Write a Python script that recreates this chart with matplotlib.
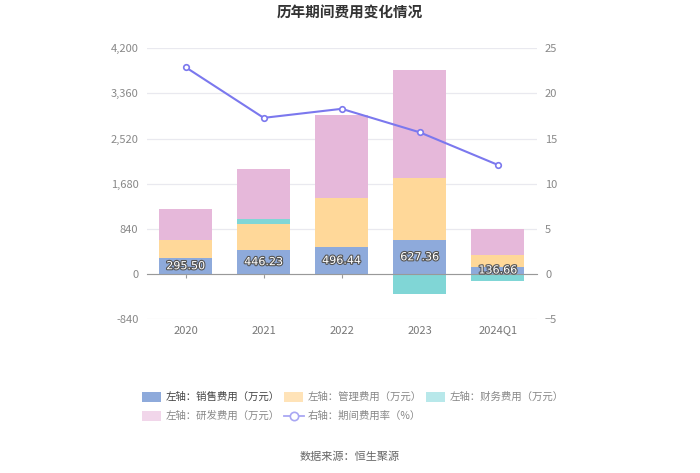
import matplotlib
matplotlib.use("Agg")
import matplotlib.pyplot as plt
import matplotlib.patheffects as pe
from matplotlib.patches import Rectangle
from matplotlib.lines import Line2D
import numpy as np

plt.rcParams['font.family'] = ['Noto Sans CJK SC', 'DejaVu Sans']

categories = ["2020", "2021", "2022", "2023", "2024Q1"]
sales = [295.50, 446.23, 496.44, 627.36, 136.66]
mgmt = [340, 480, 918, 1165, 215]
finance = [5, 106, 5, -370, -120]
rnd = [568, 926, 1532, 2007, 495]
rate = [22.9, 17.3, 18.3, 15.7, 12.1]

left_ticks = [-840, 0, 840, 1680, 2520, 3360, 4200]
right_ticks = [-5, 0, 5, 10, 15, 20, 25]

c_sales = "#8eaadb"
c_mgmt = "#ffd899"
c_fin = "#80d6d6"
c_rnd = "#e6b8da"
c_line = "#7b78ee"

fig = plt.figure(figsize=(7, 4.73), dpi=100)
ax = fig.add_axes([146.7/700, 1-319.3/473, (536.7-146.7)/700, (319.3-48.3)/473])

x = np.arange(len(categories))
w = 0.68

sales_a = np.array(sales, float)
mgmt_a = np.array(mgmt, float)
fin_a = np.array(finance, float)
rnd_a = np.array(rnd, float)

pos_base = np.zeros(len(x))
neg_base = np.zeros(len(x))

def stack(vals, color):
    global pos_base, neg_base
    bottoms = np.where(vals >= 0, pos_base, neg_base)
    ax.bar(x, vals, w, bottom=bottoms, color=color, zorder=2, linewidth=0)
    pos_base = pos_base + np.where(vals >= 0, vals, 0)
    neg_base = neg_base + np.where(vals < 0, vals, 0)

stack(sales_a, c_sales)
stack(mgmt_a, c_mgmt)
stack(fin_a, c_fin)
stack(rnd_a, c_rnd)

for xi, v in zip(x, sales):
    ax.text(xi, v/2, f"{v:.2f}", ha="center", va="center", fontsize=8,
            color="white", zorder=5, family="DejaVu Sans",
            path_effects=[pe.withStroke(linewidth=1.6, foreground="#555555")])

ax.set_ylim(-840, 4200)
ax.set_yticks(left_ticks)
ax.set_yticklabels([f"{t:,}" for t in left_ticks])
ax.set_xlim(-0.5, len(x)-0.5)
ax.set_xticks(x)
ax.set_xticklabels(categories)
ax.grid(axis="y", color="#e9e9ef", linewidth=0.9, zorder=0)
for s in ["top", "right", "left"]:
    ax.spines[s].set_visible(False)
ax.spines["bottom"].set_position(("data", 0))
ax.spines["bottom"].set_color("#999999")
ax.spines["bottom"].set_zorder(3)
ax.tick_params(axis="x", length=3, color="#999999", pad=34, labelsize=8, labelcolor="#777777")
ax.tick_params(axis="y", length=0, pad=6, labelsize=8, labelcolor="#888888")

ax2 = ax.twinx()
ax2.set_ylim(-5, 25)
ax2.set_yticks(right_ticks)
for s in ["top", "right", "left", "bottom"]:
    ax2.spines[s].set_visible(False)
ax2.tick_params(axis="y", length=0, pad=6, labelsize=8, labelcolor="#888888")
ax2.plot(x, rate, color=c_line, linewidth=1.5, marker="o", markersize=4,
         markerfacecolor="white", markeredgecolor=c_line, markeredgewidth=1.2, zorder=6)

fig.text(0.5, 1-13/473, "历年期间费用变化情况", ha="center", va="center",
         fontsize=10.5, fontweight="bold", color="#333333")

# legend
items = [
    (142, 397, "patch", c_sales, "左轴：销售费用（万元）", "#444444"),
    (284, 397, "patch", "#ffe3b8", "左轴：管理费用（万元）", "#888888"),
    (426, 397, "patch", "#b8e8ea", "左轴：财务费用（万元）", "#888888"),
    (142, 416, "patch", "#f1d6ea", "左轴：研发费用（万元）", "#888888"),
    (284, 416, "line", "#a9a7f3", "右轴：期间费用率（%）", "#888888"),
]
for px, py, kind, col, label, tc in items:
    if kind == "patch":
        fig.patches.append(Rectangle((px/700, 1-(py+5)/473), 19/700, 10/473,
                                     transform=fig.transFigure, facecolor=col,
                                     edgecolor="none"))
    else:
        fig.lines.append(Line2D([px/700, (px+20)/700], [1-py/473, 1-py/473],
                                transform=fig.transFigure, color=col, linewidth=1.3))
        fig.lines.append(Line2D([(px+10)/700], [1-py/473], transform=fig.transFigure,
                                marker="o", markersize=6, markerfacecolor="white",
                                markeredgecolor=col, markeredgewidth=1.2, color=col))
    fig.text((px+24)/700, 1-py/473, label, ha="left", va="center", fontsize=7.5, color=tc)

fig.text(0.5, 1-457/473, "数据来源：恒生聚源", ha="center", va="center", fontsize=8, color="#666666")

fig.savefig("out.png", dpi=100)
